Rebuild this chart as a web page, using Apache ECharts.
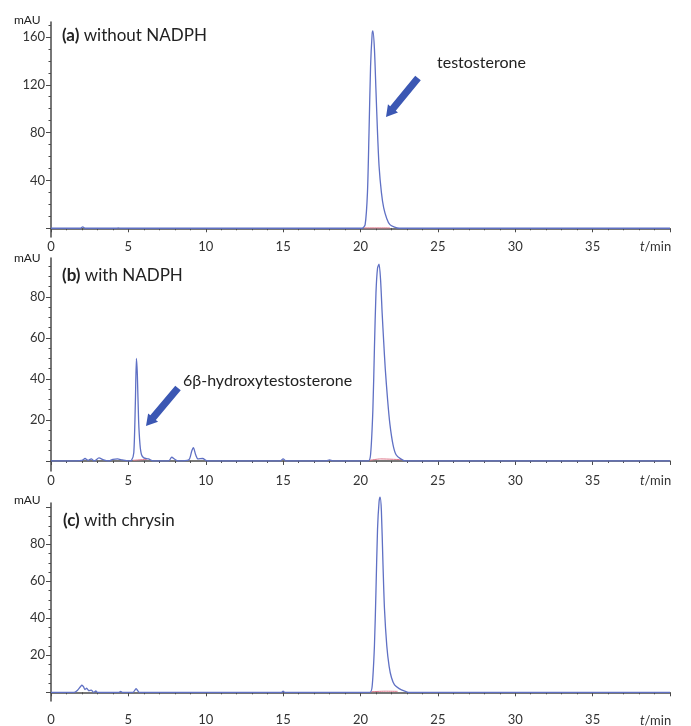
<!DOCTYPE html>
<html>
<head>
<meta charset="utf-8">
<script src="https://cdn.jsdelivr.net/npm/echarts@6/dist/echarts.min.js"></script>
<style>
  html, body { margin: 0; padding: 0; background: #fff; }
  #chart { width: 691px; height: 726px; }
</style>
</head>
<body>
<div id="chart"></div>
<script>
// chromatogram traces, [t (min), absorbance (mAU)]
var traceA = [
  [0, 0], [1.9, 0], [2.05, 1.2], [2.2, 0], [4.2, 0], [4.35, 0.4], [4.5, 0], [20.1, 0],
  [20.3, 3], [20.45, 30], [20.55, 80], [20.65, 135], [20.75, 162], [20.8, 165], [20.9, 150],
  [21.0, 115], [21.1, 80], [21.2, 52], [21.35, 30], [21.5, 17], [21.7, 8], [21.9, 3],
  [22.2, 1], [22.5, 0], [40, 0]
];
var traceB = [
  [0, 0], [1.0, 0], [2.0, 0.3], [2.2, 1.2], [2.4, 0.3], [2.6, 1], [2.8, 0], [3.1, 1.5],
  [3.4, 0.5], [3.7, 0], [4.0, 0.8], [4.3, 1], [4.6, 0.5], [5.0, 0], [5.2, 0.3], [5.35, 4],
  [5.45, 28], [5.52, 50], [5.58, 42], [5.66, 20], [5.75, 8], [5.85, 3], [6.0, 1.5],
  [6.3, 1], [6.6, 0], [7.6, 0], [7.8, 1.8], [8.0, 0.8], [8.2, 0], [8.9, 0.5], [9.1, 5],
  [9.2, 6.5], [9.35, 3], [9.5, 1], [9.8, 1.2], [10.1, 0], [14.8, 0], [15.0, 1], [15.2, 0],
  [17.8, 0], [18.0, 0.5], [18.2, 0], [20.5, 0], [20.65, 3], [20.8, 25], [20.9, 55],
  [21.0, 82], [21.1, 94], [21.2, 96], [21.3, 88], [21.4, 72], [21.5, 58], [21.6, 45],
  [21.75, 30], [21.9, 18], [22.1, 8], [22.3, 3], [22.6, 1], [22.9, 0], [40, 0]
];
var traceC = [
  [0, 0], [1.5, 0], [1.7, 1], [1.9, 3], [2.0, 3.8], [2.1, 3], [2.2, 1.5], [2.3, 2.2],
  [2.45, 0.8], [2.6, 1.2], [2.75, 0], [2.9, 0.7], [3.0, 0], [4.4, 0], [4.5, 0.5], [4.6, 0],
  [5.3, 0], [5.5, 2], [5.7, 0], [14.9, 0], [15.0, 0.6], [15.1, 0], [20.6, 0], [20.75, 3],
  [20.9, 25], [21.0, 55], [21.1, 88], [21.2, 103], [21.27, 105.5], [21.35, 98], [21.45, 70],
  [21.55, 45], [21.7, 25], [21.85, 14], [22.0, 8], [22.2, 4], [22.5, 2], [22.9, 0.5],
  [23.1, 0], [40, 0]
];
// integration baselines (pink)
var baseA = [[20.2, 0.3], [21.9, 0.3]];
var baseB1 = [[5.3, 0.3], [6.2, 0.8]];
var baseB2 = [[20.6, 0.3], [21.3, 1.0], [22.7, 0.6]];
var baseC = [[20.7, 0.3], [21.6, 0.6], [22.4, 0.5]];

// axis ticks
var xTicks = [0, 5, 10, 15, 20, 25, 30, 35, 40];
var yLabelsA = [40, 80, 120, 160];
var yLabelsB = [20, 40, 60, 80];
var yLabelsC = [20, 40, 60, 80];
var yRangeA = [-7.3, 172.5];
var yRangeB = [-4.9, 99];
var yRangeC = [-4.7, 102.3];

var FONT = 'Lato, "Open Sans", sans-serif';
var AXIS_COLOR = '#4a4a4a';
var TRACE_COLOR = '#5f70c4';
var BASE_COLOR = '#e0788c';

var grids = [
  { left: 51, right: 21, top: 22, height: 215 },
  { left: 51, right: 21, top: 258, height: 213 },
  { left: 51, right: 21, top: 503, height: 200 }
];

function minorList(min, max, step) {
  var out = [];
  for (var v = Math.ceil(min / step) * step; v <= max; v += step) out.push(v);
  return out;
}

function makeX(gi, margin) {
  return {
    type: 'value', gridIndex: gi, min: 0, max: 40, interval: 5,
    axisLine: { lineStyle: { color: AXIS_COLOR, width: 1.5 } },
    axisTick: { length: 4, lineStyle: { color: AXIS_COLOR } },
    minorTick: { show: true, splitNumber: 5, length: 2, lineStyle: { color: AXIS_COLOR } },
    axisLabel: {
      color: '#333', fontFamily: FONT, fontSize: 13, margin: margin,
      showMaxLabel: false,
      formatter: function (v) { return xTicks.indexOf(v) >= 0 && v < 40 ? String(v) : ''; }
    },
    splitLine: { show: false }
  };
}

function makeY(gi, range, labels, majorTicks) {
  return {
    type: 'value', gridIndex: gi, min: range[0], max: range[1], position: 'left',
    axisLine: { show: true, onZero: false, lineStyle: { color: AXIS_COLOR, width: 1.5 } },
    axisTick: { show: true, length: 5, customValues: majorTicks, lineStyle: { color: AXIS_COLOR } },
    axisLabel: { color: '#333', fontFamily: FONT, fontSize: 13, margin: 6, customValues: labels },
    splitLine: { show: false }
  };
}

function makeMinorY(gi, range, step) {
  return {
    type: 'value', gridIndex: gi, min: range[0], max: range[1], position: 'left', offset: 0,
    axisLine: { show: false },
    axisTick: { show: true, length: 2.5, customValues: minorList(range[0], range[1], step),
      lineStyle: { color: AXIS_COLOR } },
    axisLabel: { show: false },
    splitLine: { show: false }
  };
}

function traceSeries(data, xi, yi, color, width) {
  return {
    type: 'line', xAxisIndex: xi, yAxisIndex: yi, data: data,
    showSymbol: false, symbol: 'none', clip: false, smooth: 0.25,
    lineStyle: { color: color, width: width },
    z: color === BASE_COLOR ? 3 : 4
  };
}

// thick annotation arrow, tail -> head
function arrowShape(x1, y1, x2, y2) {
  var dx = x2 - x1, dy = y2 - y1;
  var len = Math.sqrt(dx * dx + dy * dy);
  var ux = dx / len, uy = dy / len, nx = -uy, ny = ux;
  var w = 3.6, hw = 6.5, hl = 11;
  var bx = x2 - ux * hl, by = y2 - uy * hl;
  return [
    [x1 + nx * w, y1 + ny * w], [bx + nx * w, by + ny * w], [bx + nx * hw, by + ny * hw],
    [x2, y2],
    [bx - nx * hw, by - ny * hw], [bx - nx * w, by - ny * w], [x1 - nx * w, y1 - ny * w]
  ];
}

function label(x, y, text, size, rich) {
  return {
    type: 'text', left: x, top: y,
    style: { text: text, fontFamily: FONT, fontSize: size, fill: '#222', rich: rich }
  };
}

var panelRich = {
  b: { fontFamily: FONT, fontSize: 17, fontWeight: 'bold', fill: '#222' },
  n: { fontFamily: FONT, fontSize: 17, fill: '#222' }
};
var tRich = {
  i: { fontFamily: FONT, fontSize: 13, fontStyle: 'italic', fill: '#333' },
  n: { fontFamily: FONT, fontSize: 13, fill: '#333' }
};

var voChart = echarts.init(document.getElementById('chart'));

var voOption = {
  animation: false,
  backgroundColor: '#fff',
  grid: grids,
  xAxis: [makeX(0, 3), makeX(1, 3), makeX(2, 12)],
  yAxis: [
    makeY(0, yRangeA, yLabelsA, [0].concat(yLabelsA)),
    makeY(1, yRangeB, yLabelsB, [0].concat(yLabelsB)),
    makeY(2, yRangeC, yLabelsC, [0].concat(yLabelsC).concat([100])),
    makeMinorY(0, yRangeA, 10),
    makeMinorY(1, yRangeB, 5),
    makeMinorY(2, yRangeC, 5)
  ],
  series: [
    traceSeries(baseA, 0, 0, BASE_COLOR, 1),
    traceSeries(baseB1, 1, 1, BASE_COLOR, 1),
    traceSeries(baseB2, 1, 1, BASE_COLOR, 1),
    traceSeries(baseC, 2, 2, BASE_COLOR, 1),
    traceSeries(traceA, 0, 0, TRACE_COLOR, 1.3),
    traceSeries(traceB, 1, 1, TRACE_COLOR, 1.3),
    traceSeries(traceC, 2, 2, TRACE_COLOR, 1.3)
  ],
  graphic: [
    label(14, 14, 'mAU', 12),
    label(14, 252, 'mAU', 12),
    label(14, 494, 'mAU', 12),
    label(62, 27, '{b|(a)} {n|without NADPH}', 17, panelRich),
    label(62, 267, '{b|(b)} {n|with NADPH}', 17, panelRich),
    label(63, 512, '{b|(c)} {n|with chrysin}', 17, panelRich),
    label(437, 55, 'testosterone', 16),
    label(183, 373, '6β-hydroxytestosterone', 16),
    label(640, 240, '{i|t}{n|/min}', 13, tRich),
    label(640, 474, '{i|t}{n|/min}', 13, tRich),
    label(640, 714, '{i|t}{n|/min}', 13, tRich),
    { type: 'polygon', shape: { points: arrowShape(418, 78, 386, 117) },
      style: { fill: '#3b57b3' }, z: 10 },
    { type: 'polygon', shape: { points: arrowShape(178, 388, 146, 426) },
      style: { fill: '#3b57b3' }, z: 10 }
  ]
};

voChart.setOption(voOption);
</script>
</body>
</html>
